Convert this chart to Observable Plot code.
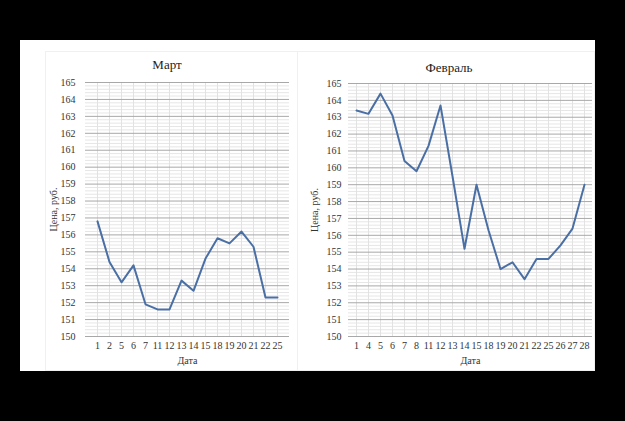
<!DOCTYPE html>
<html>
<head>
<meta charset="utf-8">
<script src="https://cdn.jsdelivr.net/npm/d3@7"></script>
<script src="https://cdn.jsdelivr.net/npm/@observablehq/plot@0.6"></script>
<style>
  html, body { margin: 0; padding: 0; background: #000; width: 625px; height: 421px; overflow: hidden; }
  #panel { position: absolute; left: 20px; top: 40px; width: 575px; height: 331px; background: #fff; }
  .chart { position: absolute; top: 0; }
  .chart svg, .chart svg text { font-family: "Liberation Serif", "Times New Roman", "DejaVu Serif", serif !important; }
  .title { position: absolute; font-family: "Liberation Serif", "Times New Roman", "DejaVu Serif", serif; font-size: 13px; color: #222; transform: translate(-50%, -50%); white-space: nowrap; }
  .box { position: absolute; border: 1px solid #f0f0f0; box-sizing: border-box; }
</style>
</head>
<body>
<div id="panel">
  <div class="box" style="left:25px;top:11px;width:253px;height:320px;"></div>
  <div class="box" style="left:277px;top:11px;width:298px;height:320px;"></div>
  <div id="left" class="chart" style="left:0px;"></div>
  <div id="right" class="chart" style="left:277px;"></div>
  <div class="title" style="left:147px;top:25px;">Март</div>
  <div class="title" style="left:429px;top:28px;">Февраль</div>
</div>
<script>
// Data
const marchDays   = ["1","2","5","6","7","11","12","13","14","15","18","19","20","21","22","25"];
const marchPrices = [156.8,154.4,153.2,154.2,151.9,151.6,151.6,153.3,152.7,154.6,155.8,155.5,156.2,155.3,152.3,152.3];

const febDays   = ["1","4","5","6","7","8","11","12","13","14","15","18","19","20","21","22","25","26","27","28"];
const febPrices = [163.4,163.2,164.4,163.1,160.4,159.8,161.3,163.7,159.5,155.2,159.0,156.3,154.0,154.4,153.4,154.6,154.6,155.4,156.4,159.0];

const majorTicks = [150,151,152,153,154,155,156,157,158,159,160,161,162,163,164,165];
const minorTicks = d3.range(150, 165.001, 0.2).map(v => Math.round(v * 10) / 10).filter(v => !majorTicks.includes(v));

const lineColor = "#4a6fa5";

function makeChart(days, prices, opts) {
  const idx = d3.range(days.length);
  return Plot.plot({
    width: opts.width,
    height: 331,
    marginLeft: opts.marginLeft,
    marginRight: opts.marginRight,
    marginTop: opts.marginTop,
    marginBottom: 35,
    style: { fontFamily: "'Liberation Serif', 'Times New Roman', serif", fontSize: "10px", color: "#333", background: "transparent" },
    x: { type: "point", domain: days, padding: 0.5, label: null },
    y: { domain: [150, 165], label: null },
    marks: [
      Plot.ruleY(minorTicks, { stroke: "#e6e6e6", strokeWidth: 1 }),
      Plot.ruleX(days, { x: d => d, y1: 150, y2: 165, stroke: "#e2e2e2", strokeWidth: 1 }),
      Plot.ruleY(majorTicks, { stroke: "#a8a8a8", strokeWidth: 1 }),
      Plot.line(idx, { x: i => days[i], y: i => prices[i], stroke: lineColor, strokeWidth: 2 }),
      Plot.axisY({ ticks: majorTicks, tickSize: 0, tickPadding: opts.yPad, label: "Цена, руб.", labelAnchor: "center", labelArrow: "none", labelOffset: opts.yLabelOffset }),
      Plot.axisX({ tickSize: 0, tickPadding: 5, label: "Дата", labelAnchor: "center", labelArrow: "none", labelOffset: 27 })
    ]
  });
}

document.getElementById("left").appendChild(makeChart(marchDays, marchPrices, {
  width: 277, marginLeft: 65, marginRight: 8, marginTop: 42, yPad: 10, yLabelOffset: 36
}));
document.getElementById("right").appendChild(makeChart(febDays, febPrices, {
  width: 298, marginLeft: 51, marginRight: 3, marginTop: 43, yPad: 7, yLabelOffset: 38
}));
</script>
</body>
</html>
